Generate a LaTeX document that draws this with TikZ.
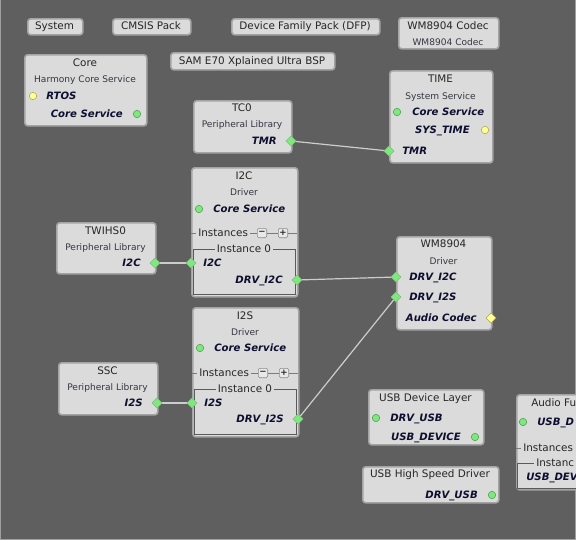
\documentclass[tikz,border=0pt]{standalone}
\usepackage{fontspec}
\setmainfont{DejaVu Sans}
\usetikzlibrary{shapes.geometric}
\definecolor{bgc}{HTML}{5F5F5F}
\definecolor{boxfill}{HTML}{DBDBDB}
\definecolor{boxline}{HTML}{A4A4A4}
\definecolor{txt}{HTML}{262626}
\definecolor{subtxt}{HTML}{363644}
\definecolor{porttxt}{HTML}{0E0E30}
\definecolor{grn}{HTML}{7EE87E}
\definecolor{grnline}{HTML}{4E9E4E}
\definecolor{yel}{HTML}{FFFF96}
\definecolor{yelline}{HTML}{A8A850}
\definecolor{connc}{HTML}{CDCDCD}
\definecolor{framec}{HTML}{5A5A5A}
\definecolor{edgec}{HTML}{A0A0A0}
\pgfdeclarelayer{front}
\pgfsetlayers{main,front}
\tikzset{
 box/.style={draw=boxline, fill=boxfill, line width=1.2pt, rounded corners=2.2pt, anchor=north west, inner sep=0pt},
 ttl/.style={font=\fontsize{7.8pt}{9pt}\selectfont, text=txt, anchor=mid, inner sep=0pt},
 sub/.style={font=\fontsize{6.8pt}{8pt}\selectfont, text=subtxt, anchor=mid, inner sep=0pt},
 plbl/.style={font=\fontsize{7.6pt}{9pt}\selectfont\bfseries\itshape, text=porttxt, inner sep=0pt},
 pl/.style={plbl, anchor=mid west},
 pr/.style={plbl, anchor=mid east},
 gdot/.style={circle, draw=grnline, fill=grn, line width=0.4pt, minimum size=5.6pt, inner sep=0pt},
 ydot/.style={circle, draw=yelline, fill=yel, line width=0.4pt, minimum size=5.6pt, inner sep=0pt},
 gdia/.style={diamond, draw=grnline!70!white, fill=grn, line width=0.4pt, minimum width=7.8pt, minimum height=7.8pt, inner sep=0pt},
 ydia/.style={diamond, draw=yelline, fill=yel, line width=0.4pt, minimum width=7.8pt, minimum height=7.8pt, inner sep=0pt},
 conn/.style={draw=connc, line width=0.9pt},
 iline/.style={draw=framec!80!white, line width=0.6pt},
 iframe/.style={draw=framec, line width=0.6pt},
 inst/.style={font=\fontsize{7.8pt}{9pt}\selectfont, text=txt, inner sep=1.5pt},
 btn/.style={draw=framec!70!white, fill=boxfill!60!white, rounded corners=1pt, line width=0.5pt, minimum size=7pt, inner sep=0pt, font=\fontsize{6.5pt}{6.5pt}\selectfont\bfseries, text=txt},
}
\newcommand\dbox[5]{\node[box, minimum width={(#4-#2)*0.75pt}, minimum height={(#5-#3)*0.75pt}] (#1) at (#2,#3) {};}
\begin{document}
\begin{tikzpicture}[x=0.75pt,y=-0.75pt]
\useasboundingbox (0,0) rectangle (576,540);
\clip (0,0) rectangle (576,540);
\fill[bgc] (0,0) rectangle (576,540);
\draw[edgec, line width=0.75pt] (0.5,0) -- (0.5,539.5) -- (576,539.5);
\draw[edgec, line width=0.75pt] (575.5,0) -- (575.5,540);

% top buttons
\dbox{sys}{27}{18}{82}{34}
\node[ttl] (systxt) at (54.5,26) {System};
\dbox{cmsis}{112}{18}{190}{34}
\node[ttl] (cmsistxt) at (151,26) {CMSIS Pack};
\dbox{dfp}{231}{18}{379}{34}
\node[ttl] (dfptxt) at (305,26) {Device Family Pack (DFP)};
\dbox{bsp}{170}{52}{334}{69}
\node[ttl] (bsptxt) at (252,60.5) {SAM E70 Xplained Ultra BSP};
\dbox{codec}{398}{17}{498}{48}
\node[ttl] (codect) at (448,26) {WM8904 Codec};
\node[sub] (codecs) at (448,42) {WM8904 Codec};

% Core
\dbox{core}{24}{54}{146}{125}
\node[ttl] (coret) at (85,63) {Core};
\node[sub] (cores) at (85,79) {Harmony Core Service};
\node[pl] (rtosl) at (46,96) {RTOS};
\node[pr] (corecsl) at (123,114) {Core Service};

% TC0
\dbox{tc0}{193}{100}{291}{152}
\node[ttl] (tc0t) at (242,108) {TC0};
\node[sub] (tc0s) at (242,124) {Peripheral Library};
\node[pr] (tc0tmrl) at (277,141) {TMR};

% TIME
\dbox{time}{389}{70}{492}{162}
\node[ttl] (timet) at (440.5,79) {TIME};
\node[sub] (times) at (440.5,96) {System Service};
\node[pl] (timecsl) at (412,112) {Core Service};
\node[pr] (timesysl) at (470,130) {SYS\_TIME};
\node[pl] (timetmrl) at (402,151) {TMR};

% I2C driver
\dbox{i2c}{191}{167}{297}{296}
\node[ttl] (i2ct) at (244,176) {I2C};
\node[sub] (i2cs) at (244,192) {Driver};
\node[pl] (i2ccsl) at (213,209) {Core Service};
\coordinate (i2cil) at (191,233);
\coordinate (i2cir) at (297,233);
\node[inst, anchor=mid west] (i2cinst) at (196,233) {Instances};
\node[btn] (i2cminus) at (262,233) {−};
\node[btn] (i2cplus) at (283,233) {+};
\draw[iline] (i2cil) -- (i2cinst.west |- i2cil);
\draw[iline] (i2cinst.east |- i2cil) -- (i2cminus.west);
\draw[iline] (i2cminus.east) -- (i2cplus.west);
\draw[iline] (i2cplus.east) -- (i2cir);
\draw[iframe] (193,249) rectangle (295.5,294.5);
\node[inst, fill=boxfill] (i2cframe) at (244,249) {Instance 0};
\node[pl] (i2ci2cl) at (203,263) {I2C};
\node[pr] (i2cdrvl) at (283,280) {DRV\_I2C};

% TWIHS0
\dbox{twi}{56}{222}{155}{273}
\node[ttl] (twit) at (105.5,231) {TWIHS0};
\node[sub] (twis) at (105.5,247) {Peripheral Library};
\node[pr] (twil) at (141,263) {I2C};

% WM8904 driver
\dbox{wm}{396}{236}{491}{329}
\node[ttl] (wmt) at (443.5,244) {WM8904};
\node[sub] (wms) at (443.5,261) {Driver};
\node[pl] (wmi2cl) at (409,277) {DRV\_I2C};
\node[pl] (wmi2sl) at (409,297) {DRV\_I2S};
\node[pr] (wmacl) at (477,318) {Audio Codec};

% I2S driver
\dbox{i2s}{192}{307}{298}{436}
\node[ttl] (i2st) at (245,316) {I2S};
\node[sub] (i2ss) at (245,332) {Driver};
\node[pl] (i2scsl) at (214,348) {Core Service};
\coordinate (i2sil) at (192,373);
\coordinate (i2sir) at (298,373);
\node[inst, anchor=mid west] (i2sinst) at (197,373) {Instances};
\node[btn] (i2sminus) at (263,373) {−};
\node[btn] (i2splus) at (284,373) {+};
\draw[iline] (i2sil) -- (i2sinst.west |- i2sil);
\draw[iline] (i2sinst.east |- i2sil) -- (i2sminus.west);
\draw[iline] (i2sminus.east) -- (i2splus.west);
\draw[iline] (i2splus.east) -- (i2sir);
\draw[iframe] (194,389) rectangle (296.5,434.5);
\node[inst, fill=boxfill] (i2sframe) at (245,389) {Instance 0};
\node[pl] (i2si2sl) at (204,403) {I2S};
\node[pr] (i2sdrvl) at (284,419) {DRV\_I2S};

% SSC
\dbox{ssc}{58}{362}{157}{414}
\node[ttl] (ssct) at (107.5,371) {SSC};
\node[sub] (sscs) at (107.5,387) {Peripheral Library};
\node[pr] (sscl) at (143,403) {I2S};

% USB Device Layer
\dbox{usbdl}{368}{389}{483}{444}
\node[ttl] (usbdlt) at (425.5,398) {USB Device Layer};
\node[pl] (usbdldrvl) at (390,418) {DRV\_USB};
\node[pr] (usbdldevl) at (461,437) {USB\_DEVICE};

% USB High Speed Driver
\dbox{usbhs}{362}{466}{498}{502}
\node[ttl] (usbhst) at (430,474) {USB High Speed Driver};
\node[pr] (usbhsl) at (478,495) {DRV\_USB};

% Audio function (cut off at the right edge)
\dbox{audio}{516}{394}{640}{489}
\node[ttl, anchor=mid west] (audiot) at (531,403) {Audio Fu};
\node[pl] (audiodevl) at (537,422) {USB\_D};
\coordinate (audioil) at (516,448);
\node[inst, anchor=mid west] (audioinst) at (521,448) {Instances};
\draw[iline] (audioil) -- (audioinst.west |- audioil);
\draw[iframe] (517.5,463) rectangle (636,488);
\node[inst, fill=boxfill, anchor=mid west] (audioframe) at (534,463) {Instanc};
\node[plbl, anchor=mid west] (audiousbl) at (526,477) {USB\_DEV};

% ports
\begin{pgfonlayer}{front}
\node[ydot] (rtosp) at (33,96) {};
\node[gdot] (corecsp) at (137,114) {};
\node[gdia] (tc0tmr) at (291,141) {};
\node[gdot] (timecsp) at (397,112) {};
\node[ydot] (timesysp) at (485,130) {};
\node[gdia] (timetmr) at (389,151) {};
\node[gdot] (i2ccsp) at (199,209) {};
\node[gdia] (i2ci2c) at (191,263) {};
\node[gdia] (i2cdrv) at (297,280) {};
\node[gdia] (twii2c) at (155,263) {};
\node[gdia] (wmi2c) at (396,277) {};
\node[gdia] (wmi2s) at (396,297) {};
\node[ydia] (wmac) at (491,318) {};
\node[gdot] (i2scsp) at (200,348) {};
\node[gdia] (i2si2s) at (192,403) {};
\node[gdia] (i2sdrv) at (298,419) {};
\node[gdia] (sscpi2s) at (157,403) {};
\node[gdot] (usbdldrvp) at (376,418) {};
\node[gdot] (usbdldevp) at (475,437) {};
\node[gdot] (usbhsp) at (492,495) {};
\node[gdot] (audiodevp) at (523,422) {};
\end{pgfonlayer}

% connectors
\draw[conn] (tc0tmr.center) -- (timetmr.center);
\draw[conn] (twii2c.center) -- (i2ci2c.center);
\draw[conn] (i2cdrv.center) -- (wmi2c.center);
\draw[conn] (sscpi2s.center) -- (i2si2s.center);
\draw[conn] (i2sdrv.center) -- (wmi2s.center);
\end{tikzpicture}
\end{document}
